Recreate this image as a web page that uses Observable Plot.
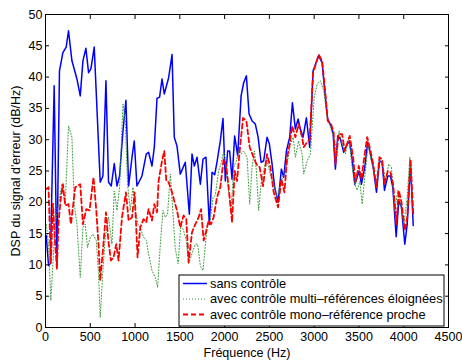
<!DOCTYPE html>
<html>
<head>
<meta charset="utf-8">
<script src="https://cdn.jsdelivr.net/npm/d3@7"></script>
<script src="https://cdn.jsdelivr.net/npm/@observablehq/plot@0.6"></script>
<style>
  html, body { margin: 0; padding: 0; background: #fff; }
  #chart { position: relative; width: 462px; height: 360px; }
</style>
</head>
<body>
<div id="chart"></div>
<script>
// [frequency (Hz), DSP (dB/Hz)]
const sansControle = [
  [8,14.7],[34,9.9],[53,10.2],[97,38.6],[127,9.6],[156,41],[194,43.9],[231,44.8],[257,47.4],[295,42.6],
  [332,40.7],[351,39.7],[388,37],[418,42.6],[451,44.6],[481,40.7],[507,41.3],[544,44.8],[611,23.2],[641,24.2],
  [675,39.4],[704,23.2],[734,22.6],[768,26.2],[798,22.6],[827,24.2],[865,31.4],[898,36.3],[928,22.6],[966,27.2],
  [991,29.8],[1021,22.6],[1077,24.2],[1125,27.7],[1151,28],[1189,25.8],[1215,28.8],[1245,36.6],[1274,36.8],[1301,39.7],
  [1326,37.3],[1375,39.9],[1413,43.6],[1438,30.4],[1468,29],[1505,24.5],[1561,26.4],[1606,18.1],[1636,27.7],[1662,25.8],
  [1692,27.2],[1729,22.9],[1759,26.9],[1792,27.2],[1829,16.5],[1860,24.8],[1889,24.4],[1915,26.4],[1952,29.8],[1982,33.4],
  [2008,23.4],[2034,28.2],[2056,28.2],[2083,23.7],[2112,30.6],[2146,27.4],[2184,37],[2213,39.1],[2243,40.2],[2273,34.1],
  [2307,33],[2343,32.5],[2374,30.4],[2407,26.4],[2436,26.6],[2474,30.4],[2500,29.3],[2530,26.1],[2559,22.4],[2597,20],
  [2634,25.3],[2660,24],[2690,28.2],[2727,30.4],[2757,35.9],[2790,31.7],[2821,33.3],[2846,31.7],[2876,30.4],[2913,33.5],
  [2950,28.8],[2988,41],[3014,42],[3051,43.4],[3089,42.3],[3114,38.3],[3151,33.3],[3189,32.2],[3212,30.9],[3237,25.3],
  [3263,30.6],[3293,30.1],[3330,28],[3360,29],[3394,29.8],[3424,26.9],[3453,22.9],[3480,24],[3502,25],[3528,22.9],
  [3565,25.6],[3598,29.6],[3629,27.7],[3659,25.6],[3696,21.6],[3729,26.6],[3759,26.4],[3785,21.9],[3822,24.2],[3852,24.2],
  [3878,22.4],[3916,14.5],[3945,20.3],[3975,19.2],[4012,13.3],[4039,16.5],[4076,26.1],[4106,16.3]
];

const multiReferences = [
  [8,16.5],[34,13.3],[60,4.3],[83,10.2],[108,16.5],[145,19.7],[183,22.9],[220,19.7],[257,32.2],[295,30.4],
  [321,19.7],[351,16.5],[388,8],[418,16],[444,16.5],[469,12.8],[500,14.4],[530,14.9],[567,13.9],[592,8.6],
  [611,1.6],[641,9.1],[667,14.4],[704,17.6],[742,13.3],[768,21.8],[798,18.7],[827,22.4],[865,35.7],[891,33],
  [916,22.9],[947,18.7],[977,22.4],[1002,18.7],[1033,16.5],[1058,16],[1095,14.4],[1125,13.9],[1151,11.8],[1189,9.1],
  [1226,8],[1252,6.4],[1282,13.3],[1312,18.7],[1338,17.6],[1363,18.1],[1394,24.5],[1449,12.6],[1481,10.2],[1511,16.5],
  [1542,15.5],[1572,13.9],[1598,10.2],[1636,11.8],[1673,13.3],[1699,13.3],[1729,9.9],[1759,9.1],[1785,13.3],[1810,16.5],
  [1840,17.1],[1871,20.8],[1896,21.1],[1933,25],[1960,26.1],[1989,28.2],[2019,25.6],[2045,21.8],[2072,18.7],[2101,25.6],
  [2131,26.6],[2157,28.2],[2184,27.7],[2213,28.2],[2251,27.2],[2280,19.7],[2307,25.6],[2332,28.2],[2355,25],[2380,18.7],
  [2407,22.9],[2436,25],[2466,27.2],[2492,25.6],[2519,24],[2548,22.9],[2586,20.8],[2623,22.9],[2660,24.5],[2698,26.1],
  [2735,29.3],[2765,30.4],[2790,27.2],[2827,29.8],[2865,27.7],[2883,24.5],[2921,26.6],[2958,27.7],[3000,36.7],[3033,38.9],
  [3070,39.4],[3107,37.8],[3145,33.5],[3182,31.9],[3218,30.4],[3249,28.2],[3279,31.4],[3312,29.3],[3349,27.7],[3386,30.4],
  [3424,25.6],[3453,22.9],[3480,21.9],[3509,23.4],[3536,19.7],[3565,24],[3603,29.3],[3636,26.6],[3665,25],[3696,22.9],
  [3733,27.2],[3770,25.6],[3796,23.4],[3833,26.1],[3863,25.6],[3900,18.7],[3934,21.9],[3964,19.7],[4001,16.5],[4039,20.8],
  [4068,27.2],[4095,20.8],[4113,18.1]
];

const monoReference = [
  [8,22.1],[34,22.4],[60,10.2],[83,19.8],[108,13.4],[127,9.4],[145,16.6],[172,20.8],[194,22.9],[220,19.5],
  [257,19.7],[284,16.5],[306,19.2],[332,22.4],[388,22.9],[418,16.5],[455,18.9],[492,18.7],[536,24],[567,18.7],
  [592,13.3],[611,7.5],[641,12.3],[675,18.4],[704,13.6],[731,10.7],[760,11.2],[790,13.3],[816,10.7],[854,17.6],
  [898,21.6],[928,17.1],[966,17.6],[995,21.6],[1028,11.2],[1058,16],[1095,17.3],[1125,16.8],[1151,18.9],[1189,17.1],
  [1215,19.7],[1245,18.4],[1263,23.4],[1301,26.6],[1326,28.2],[1349,23.4],[1375,23.2],[1413,21.6],[1442,20],[1468,18.7],
  [1505,16],[1542,17.9],[1572,17.3],[1598,10.4],[1636,15.2],[1673,16.5],[1710,17.6],[1737,18.9],[1766,13.9],[1796,15.5],
  [1822,17.1],[1848,16.5],[1877,17.6],[1915,20.8],[1952,22.4],[1989,26.9],[2019,25.8],[2056,20.8],[2083,16.8],[2112,25],
  [2139,23.4],[2168,28.2],[2206,33.5],[2243,33],[2280,28.8],[2318,27.4],[2355,26.1],[2391,25.6],[2429,22.6],[2474,27.7],
  [2511,25.6],[2548,21.6],[2597,19.2],[2634,23.7],[2668,21.6],[2698,27.2],[2727,29.3],[2754,32.2],[2790,30.4],[2827,32.5],
  [2865,30.4],[2883,28.8],[2921,29.6],[2950,30.1],[2988,40.7],[3051,43.6],[3089,42.6],[3126,37.3],[3151,33],[3189,32.5],
  [3218,31.1],[3237,26.1],[3274,30.9],[3312,30.9],[3341,28.2],[3397,30.6],[3435,27.2],[3461,23.2],[3498,25.8],[3528,23.7],
  [3554,26.6],[3592,30.4],[3629,28.2],[3659,26.1],[3696,22.4],[3729,27.2],[3759,26.9],[3785,22.9],[3822,25],[3852,24.8],
  [3882,22.9],[3919,16.5],[3945,21.9],[3975,20],[4012,15.5],[4039,17.6],[4076,26.9],[4106,18.1]
];

const xTicks = [0,500,1000,1500,2000,2500,3000,3500,4000,4500];
const yTicks = [0,5,10,15,20,25,30,35,40,45,50];
const seriesNames = ["sans contrôle", "avec contrôle multi–références éloignées", "avec contrôle mono–référence proche"];
const xLabel = "Fréquence (Hz)";
const yLabel = "DSP du signal d'erreur (dB/Hz)";

const BLUE = "#0000ff", GREEN = "#3a9a3a", RED = "#ff0000";
const FONT = "'Liberation Sans', Arial, sans-serif";
const FS = 12.5;
const fmt = d => String(d);

const plot = Plot.plot({
  width: 462,
  height: 360,
  marginLeft: 45,
  marginRight: 14,
  marginTop: 14,
  marginBottom: 33,
  style: {fontFamily: FONT, fontSize: FS + "px", color: "#000", background: "#fff"},
  x: {domain: [0, 4500]},
  y: {domain: [0, 50]},
  marks: [
    Plot.line(sansControle, {x: d => d[0], y: d => d[1], stroke: BLUE, strokeWidth: 1.5}),
    Plot.line(multiReferences, {x: d => d[0], y: d => d[1], stroke: GREEN, strokeWidth: 1, strokeDasharray: "1,2"}),
    Plot.line(monoReference, {x: d => d[0], y: d => d[1], stroke: RED, strokeWidth: 1.8, strokeDasharray: "5,3"}),
    Plot.frame({stroke: "#000", strokeWidth: 1}),
    Plot.axisX(xTicks, {anchor: "bottom", tickSize: -4, tickPadding: 9, tickFormat: fmt, fontSize: FS, label: xLabel, labelAnchor: "center", labelArrow: "none", labelOffset: 29, fill: "#000"}),
    Plot.axisX(xTicks, {anchor: "top", tickSize: -4, tickFormat: () => "", label: null}),
    Plot.axisY(yTicks, {anchor: "left", tickSize: -4, tickPadding: 7, tickFormat: fmt, fontSize: FS, label: yLabel, labelAnchor: "center", labelArrow: "none", labelOffset: 34, fill: "#000"}),
    Plot.axisY(yTicks, {anchor: "right", tickSize: -4, tickFormat: () => "", label: null})
  ]
});

document.getElementById("chart").appendChild(plot);

// Legend box inside the plot area (bottom right)
const svg = d3.select(plot);
const lg = svg.append("g").attr("class", "legend").attr("text-anchor", "start");
const bx = 179, by = 275, bw = 265, bh = 51;
lg.append("rect").attr("x", bx).attr("y", by).attr("width", bw).attr("height", bh)
  .style("fill", "#ffffff").style("stroke", "#000").style("stroke-width", 1);
const styles = [
  {stroke: BLUE, width: 1.5, dash: null},
  {stroke: GREEN, width: 1, dash: "1,2"},
  {stroke: RED, width: 1.8, dash: "5,3"}
];
seriesNames.forEach((name, i) => {
  const cy = by + 8.5 + i * 15.5;
  lg.append("line").attr("x1", bx + 4).attr("x2", bx + 28).attr("y1", cy).attr("y2", cy)
    .attr("stroke", styles[i].stroke).attr("stroke-width", styles[i].width)
    .attr("stroke-dasharray", styles[i].dash);
  lg.append("text").attr("x", bx + 31).attr("y", cy).attr("dy", "0.35em")
    .attr("text-anchor", "start")
    .attr("font-family", FONT).attr("font-size", 12.8)
    .attr("fill", "#000").text(name);
});
</script>
</body>
</html>
